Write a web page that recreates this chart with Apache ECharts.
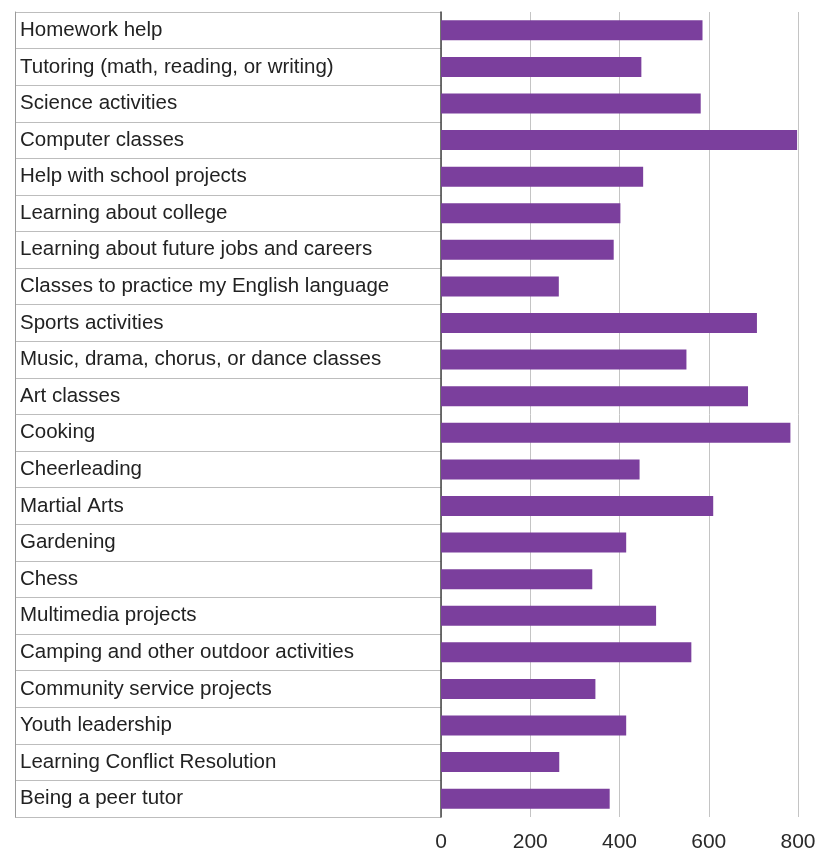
<!DOCTYPE html>
<html>
<head>
<meta charset="utf-8">
<script src="https://cdn.jsdelivr.net/npm/echarts@6/dist/echarts.min.js"></script>
<style>html,body{margin:0;padding:0;background:#fff;}#chart{width:823px;height:855px;}</style>
</head>
<body>
<div id="chart"></div>
<script>
const categories = [
  "Homework help",
  "Tutoring (math, reading, or writing)",
  "Science activities",
  "Computer classes",
  "Help with school projects",
  "Learning about college",
  "Learning about future jobs and careers",
  "Classes to practice my English language",
  "Sports activities",
  "Music, drama, chorus, or dance classes",
  "Art classes",
  "Cooking",
  "Cheerleading",
  "Martial Arts",
  "Gardening",
  "Chess",
  "Multimedia projects",
  "Camping and other outdoor activities",
  "Community service projects",
  "Youth leadership",
  "Learning Conflict Resolution",
  "Being a peer tutor"
];
const values = [586, 449, 582, 798, 453, 402, 387, 264, 708, 550, 688, 783, 445, 610, 415, 339, 482, 561, 346, 415, 265, 378];
const xTicks = [0, 200, 400, 600, 800];

const chart = echarts.init(document.getElementById('chart'), null, {renderer: 'canvas'});
const FONT = '"Liberation Sans", Arial, Helvetica, sans-serif';
const option = {
  animation: false,
  backgroundColor: '#ffffff',
  grid: [
    {left: 15, width: 426, top: 12, bottom: 38},
    {left: 441, right: 25, top: 12, bottom: 38}
  ],
  xAxis: [
    {gridIndex: 0, type: 'value', show: false, min: 0, max: 1},
    {gridIndex: 1, type: 'value', min: xTicks[0], max: xTicks[xTicks.length - 1], interval: 200,
      axisLine: {show: false}, axisTick: {show: false},
      splitLine: {show: true, lineStyle: {color: '#c4c4c4', width: 1}},
      axisLabel: {fontFamily: FONT, fontSize: 21, color: '#2a2a2a', margin: 15}}
  ],
  yAxis: [
    {gridIndex: 0, type: 'category', data: categories, inverse: true,
      axisLine: {show: true, lineStyle: {color: '#9a9a9a', width: 1}},
      axisTick: {show: false},
      splitLine: {show: true, lineStyle: {color: '#bdbdbd', width: 1}},
      axisLabel: {inside: true, margin: 5, fontFamily: FONT, fontSize: 20.5, color: '#222'}},
    {gridIndex: 1, type: 'category', data: categories, inverse: true,
      axisLine: {show: true, lineStyle: {color: '#444', width: 1.5}},
      axisTick: {show: false},
      axisLabel: {show: false},
      splitLine: {show: false}}
  ],
  series: [{
    type: 'bar',
    xAxisIndex: 1,
    yAxisIndex: 1,
    data: values,
    barWidth: 20,
    itemStyle: {color: '#7b3f9d'},
    silent: true
  }]
};
chart.setOption(option);
</script>
</body>
</html>
